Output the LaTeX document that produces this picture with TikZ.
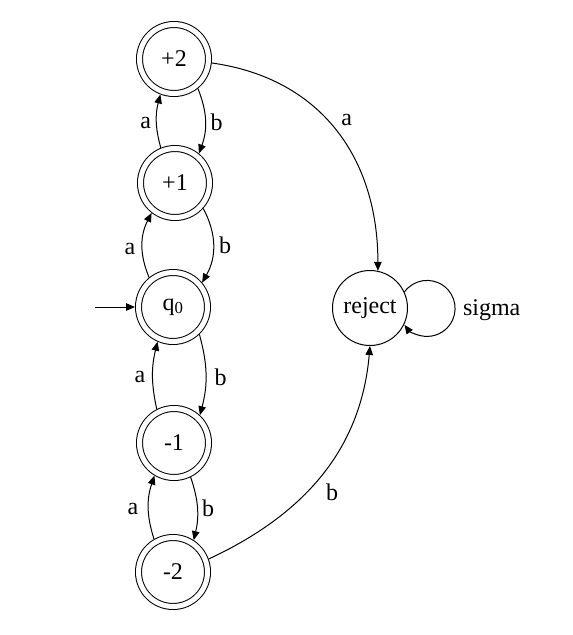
\documentclass[tikz,border=0pt]{standalone}
\usepackage{fontspec}
\setmainfont{Liberation Serif}
\usetikzlibrary{arrows.meta}
\begin{document}
\begin{tikzpicture}[x=1pt,y=-1pt,
  every node/.style={font=\fontsize{24}{28}\selectfont},
  acc/.style={circle,draw,line width=1pt,double,double distance=5pt,minimum size=69pt,inner sep=0pt,outer sep=3.5pt},
  plain/.style={circle,draw,line width=1pt,minimum size=75pt,inner sep=0pt},
  tr/.style={line width=1pt,-{Triangle[length=9pt,width=7.5pt]}},
  lab/.style={inner sep=0pt}]
\useasboundingbox (0,0) rectangle (573,635);
\node[acc] (p2) at (174,59) {+2};
\node[acc] (p1) at (175,183) {+1};
\node[acc] (q0) at (173,307) {q\textsubscript{0}};
\node[acc] (m1) at (174,443) {-1};
\node[acc] (m2) at (173,572) {-2};
\node[plain] (rej) at (370,308) {reject};
\coordinate (start) at (95,307);
\draw[tr] (start) -- (q0);
\draw[tr] (p1.112) to[bend left=15] (p2.249);
\draw[tr] (p2.-51) to[bend left=21] (p1.51);
\draw[tr] (q0.129) to[bend left=25] (p1.232);
\draw[tr] (p1.-42) to[bend left=29] (q0.40);
\draw[tr] (m1.117) to[bend left=13] (q0.246);
\draw[tr] (q0.-46) to[bend left=15] (m1.47);
\draw[tr] (m2.120) to[bend left=18] (m1.239);
\draw[tr] (m1.-64) to[bend left=16] (m2.57);
\draw[tr] (p2.-6) to[out=-8,in=90,looseness=1.07] (rej.78);
\draw[tr] (m2.20) to[out=25,in=-95,looseness=1] (rej.-90);
\draw[tr] (rej.25) arc[start angle=-144,end angle=144,radius=28];
\node[lab] (la1) at (145.7,123) {a};
\node[lab] (lb1) at (216.7,122) {b};
\node[lab] (la2) at (130,249) {a};
\node[lab] (lb2) at (225,245) {b};
\node[lab] (la3) at (140,377) {a};
\node[lab] (lb3) at (220.7,377) {b};
\node[lab] (la4) at (133,509) {a};
\node[lab] (lb4) at (208,508) {b};
\node[lab] (la5) at (346.7,120) {a};
\node[lab] (lb5) at (332,492) {b};
\node[lab] (sig) at (491.7,310) {sigma};
\end{tikzpicture}
\end{document}
